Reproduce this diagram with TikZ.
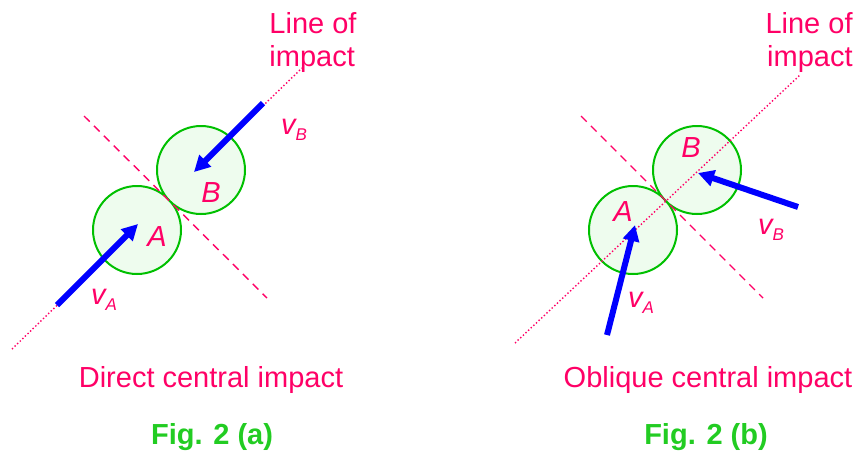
\documentclass[tikz,border=0pt]{standalone}
\usepackage{fontspec}
\setmainfont{Liberation Sans}
\usetikzlibrary{arrows.meta,positioning,calc}
\definecolor{ink}{HTML}{FF0066}
\definecolor{ballline}{HTML}{00C000}
\definecolor{ballfill}{HTML}{EEFCEE}
\definecolor{figgreen}{HTML}{22CC22}
\definecolor{vel}{HTML}{0000FF}
\newcommand{\vsub}[1]{\textit{v}\raisebox{-0.4ex}{\fontsize{8.5}{9}\selectfont\textit{#1}}}
\tikzset{
  >=Latex,
  every node/.style={font=\fontsize{14.5}{16.5}\selectfont,text=ink},
  ball/.style={circle,draw=ballline,fill=ballfill,line width=1pt,minimum size=44pt,inner sep=0pt},
  velarr/.style={-{Triangle[length=8pt,width=8pt]},line width=3pt,draw=vel},
  impactline/.style={draw=ink,line width=0.7pt,dash pattern=on 0.7pt off 1.1pt},
  tangentline/.style={draw=ink,line width=0.7pt,dash pattern=on 4pt off 3pt},
  lbl/.style={font=\fontsize{14.5}{16.5}\selectfont\itshape,inner sep=0pt},
  figlbl/.style={font=\fontsize{14.5}{16.5}\selectfont\bfseries,text=figgreen,inner sep=0pt},
  ttl/.style={inner sep=0pt},
}

\begin{document}
\begin{tikzpicture}[x=0.5pt,y=-0.5pt]
\useasboundingbox (0,0) rectangle (855,456);

% (a) direct central impact
\coordinate (la1) at (12,349);
\coordinate (la2) at (302,68);
\draw[impactline] (la1) -- (la2);
\node[ball] (ballA) at (137,230) {};
\node[ball] (ballB) at (201,170) {};
\coordinate (ta1) at (84,116);
\coordinate (ta2) at (267,298);
\draw[tangentline] (ta1) -- (ta2);
\coordinate (va0) at (57,305);
\coordinate (va1) at (138,224);
\coordinate (vb0) at (263,103);
\coordinate (vb1) at (194,172);
\draw[velarr] (va0) -- (va1);
\draw[velarr] (vb0) -- (vb1);
\node[lbl] (labA) at (157,237) {A};
\node[lbl] (labB) at (211,193) {B};
\node[lbl] (labvA) at (104,300) {\vsub{A}};
\node[lbl] (labvB) at (294,130) {\vsub{B}};
\node[ttl,align=left] (loiA) at (313,42) {Line of\\impact};
\node[ttl] (capA) at (211,380) {Direct central impact};
\node[figlbl] (figA) at (212,437) {Fig. 2 (a)};

% (b) oblique central impact
\node[ball] (ballC) at (633,230) {};
\node[ball] (ballD) at (697,170) {};
\coordinate (lb1) at (515,343);
\coordinate (lb2) at (800,75);
\draw[impactline] (lb1) -- (lb2);
\coordinate (tb1) at (581,116);
\coordinate (tb2) at (763,298);
\draw[tangentline] (tb1) -- (tb2);
\coordinate (vc0) at (607,335);
\coordinate (vc1) at (635,225);
\coordinate (vd0) at (798,207);
\coordinate (vd1) at (698,173);
\draw[velarr] (vc0) -- (vc1);
\draw[velarr] (vd0) -- (vd1);
\node[lbl] (labC) at (623,212) {A};
\node[lbl] (labD) at (691,148) {B};
\node[lbl] (labvC) at (641,303) {\vsub{A}};
\node[lbl] (labvD) at (771,230) {\vsub{B}};
\node[ttl,align=right,anchor=east] (loiB) at (853,42) {Line of\\impact};
\node[ttl] (capB) at (708,380) {Oblique central impact};
\node[figlbl] (figB) at (706,437) {Fig. 2 (b)};

\end{tikzpicture}
\end{document}
